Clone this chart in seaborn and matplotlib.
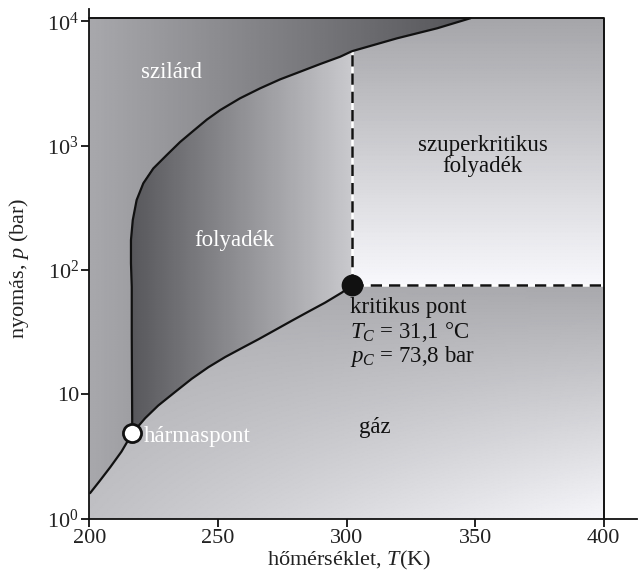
import numpy as np
import matplotlib
matplotlib.use("Agg")
import matplotlib.pyplot as plt
from matplotlib.patches import Polygon
from matplotlib.colors import ListedColormap
from matplotlib.ticker import NullLocator
import seaborn as sns

# --- data (T in K, p in bar) ---
subl_T = [200.3, 204.0, 208.1, 212.5, 216.7]
subl_p = [1.6, 2.0, 2.58, 3.45, 4.85]

vap_T = [216.7, 221.7, 226.8, 233.3, 239.8, 246.3, 252.8, 259.3, 265.8,
         272.3, 278.8, 285.2, 291.7, 298.2, 302.1]
vap_p = [4.85, 6.41, 8.11, 10.4, 13.3, 16.5, 19.9, 23.5, 27.7,
         32.9, 39.1, 46.2, 54.6, 65.8, 75.5]

melt_T = [216.7, 216.5, 216.5, 216.2, 216.2, 216.9, 218.4, 221.0, 224.9,
          230.1, 235.3, 240.5, 245.7, 250.9, 258.6, 266.4, 274.2, 282.0,
          289.8, 297.5, 302.1, 319.6, 335.2, 348.2]
melt_p = [4.85, 30, 73, 113, 174, 252, 365, 498, 656,
          840, 1070, 1318, 1620, 1933, 2404, 2891, 3415, 3935,
          4538, 5190, 5750, 7300, 8790, 10600]

triple = (216.7, 4.85)
critical = (302.1, 75.5)

x_ticks = [200, 250, 300, 350, 400]
y_ticks = [1, 10, 100, 1000, 10000]
y_tick_labels = [r"$10^0$", "10", r"$10^2$", r"$10^3$", r"$10^4$"]

T_max = 400.2
p_top = 10600

sns.set_theme(style="ticks")
plt.rcParams["font.family"] = ["Liberation Serif", "DejaVu Serif"]
plt.rcParams["mathtext.fontset"] = "custom"
plt.rcParams["mathtext.rm"] = "Liberation Serif"
plt.rcParams["mathtext.it"] = "Liberation Serif:italic"

fig = plt.figure(figsize=(6.42, 5.75), dpi=100)
ax = fig.add_axes([89.3 / 642, 56.5 / 575, 547.4 / 642, 509.2 / 575])
ax.set_yscale("log")
ax.set_xlim(200, 412.8)
ax.set_ylim(1, 1.25e4)

# slightly bluish grey ramp for the shaded regions
g = np.linspace(0, 1, 256)
cmap = ListedColormap(np.column_stack([g, g, np.minimum(1, g + 0.016)]))

TT, LP = np.meshgrid(np.linspace(200, T_max, 300), np.linspace(0, np.log10(p_top), 300))
PP = 10 ** LP


def lerp(a, b, t):
    return (a + (b - a) * np.clip(t, 0, 1)) / 255


def shade(verts, values):
    poly = Polygon(verts, closed=True, transform=ax.transData,
                   facecolor="none", edgecolor="none")
    ax.add_patch(poly)
    mesh = ax.pcolormesh(TT, PP, values, cmap=cmap, vmin=0, vmax=1,
                         shading="gouraud", rasterized=True, zorder=0)
    mesh.set_clip_path(poly)


subl = list(zip(subl_T, subl_p))
vap = list(zip(vap_T, vap_p))
melt = list(zip(melt_T, melt_p))
melt_low = [m for m in melt if m[0] <= critical[0]]
melt_high = [m for m in melt if m[0] >= critical[0]]

# gas
tx = (TT - 200) / 200
ty = np.log10(PP) / np.log10(critical[1])
bottom = lerp(192, 246, tx)
top = lerp(172, 168, tx)
shade([(200, 1)] + subl + vap + [(T_max, critical[1]), (T_max, 1)],
      bottom + (top - bottom) * np.clip(ty, 0, 1))

# solid
shade(subl + melt + [(200, p_top)], lerp(168, 85, (TT - 200) / 148))

# liquid
shade(vap + melt_low[::-1], lerp(88, 202, (TT - 216.5) / 85.6))

# supercritical
u = (LP - np.log10(critical[1])) / (np.log10(p_top) - np.log10(critical[1]))
shade([critical, (T_max, critical[1]), (T_max, p_top)] + melt_high[::-1],
      lerp(248, 165, u))

# phase boundaries
for xs, ys in [(subl_T, subl_p), (vap_T, vap_p), (melt_T, melt_p)]:
    sns.lineplot(x=xs, y=ys, sort=False, estimator=None, color="#111111",
                 lw=1.6, ax=ax, zorder=3, solid_joinstyle="round")

# critical isotherm / isobar (black dashes on white)
melt_at_crit = melt_p[melt_T.index(critical[0])]
for xs, ys in [([critical[0], critical[0]], [critical[1], melt_at_crit]),
               ([critical[0], T_max], [critical[1], critical[1]])]:
    ax.plot(xs, ys, color="white", lw=1.8, zorder=2)
    ax.plot(xs, ys, color="#111111", lw=1.8, ls=(0, (4.5, 2.8)), zorder=2)

# frame of the diagram (top and right)
ax.plot([200, T_max, T_max], [p_top, p_top, 1], color="#111111", lw=1.4,
        zorder=4, clip_on=False)

sns.scatterplot(x=[critical[0]], y=[critical[1]], s=200, color="#111111",
                edgecolor="#111111", linewidth=1.5, ax=ax, zorder=5)
sns.scatterplot(x=[triple[0]], y=[triple[1]], s=170, color="white",
                edgecolor="#111111", linewidth=2, ax=ax, zorder=5)

fs = 16.5
ax.text(231.8, 3870, "szilárd", color="white", fontsize=fs, ha="center", va="center")
ax.text(256.3, 174, "folyadék", color="white", fontsize=fs, ha="center", va="center")
ax.text(353, 825, "szuperkritikus\nfolyadék", color="#111111", fontsize=fs,
        ha="center", va="center", linespacing=1.0)
ax.text(301.5, 45.0, "kritikus pont", color="#111111", fontsize=fs, va="baseline")
ax.text(301.5, 28.2, r"$T_C$ = 31,1 °C", color="#111111", fontsize=fs, va="baseline")
ax.text(301.5, 18.3, r"$p_C$ = 73,8 bar", color="#111111", fontsize=fs, va="baseline")
ax.text(304.7, 4.87, "gáz", color="#111111", fontsize=fs, va="baseline")
ax.text(221.0, 4.15, "hármaspont", color="white", fontsize=fs, va="baseline")

ax.set_xticks(x_ticks)
ax.set_yticks(y_ticks)
ax.set_yticklabels(y_tick_labels)
ax.yaxis.set_minor_locator(NullLocator())
ax.tick_params(axis="both", labelsize=16, length=6, width=1.3, color="#111111",
               labelcolor="#222222", direction="out", pad=1.5)
ax.set_xlabel("hőmérséklet, $T$(K)", fontsize=16, color="#222222")
ax.set_ylabel("nyomás, $p$ (bar)", fontsize=16, color="#222222")
ax.xaxis.set_label_coords(0.4746, -0.059)
ax.yaxis.set_label_coords(-0.106, 0.492)
for side in ["top", "right"]:
    ax.spines[side].set_visible(False)
for side in ["left", "bottom"]:
    ax.spines[side].set_linewidth(1.3)
    ax.spines[side].set_color("#111111")
ax.grid(False)

fig.savefig("out.png", dpi=100, facecolor="white")
